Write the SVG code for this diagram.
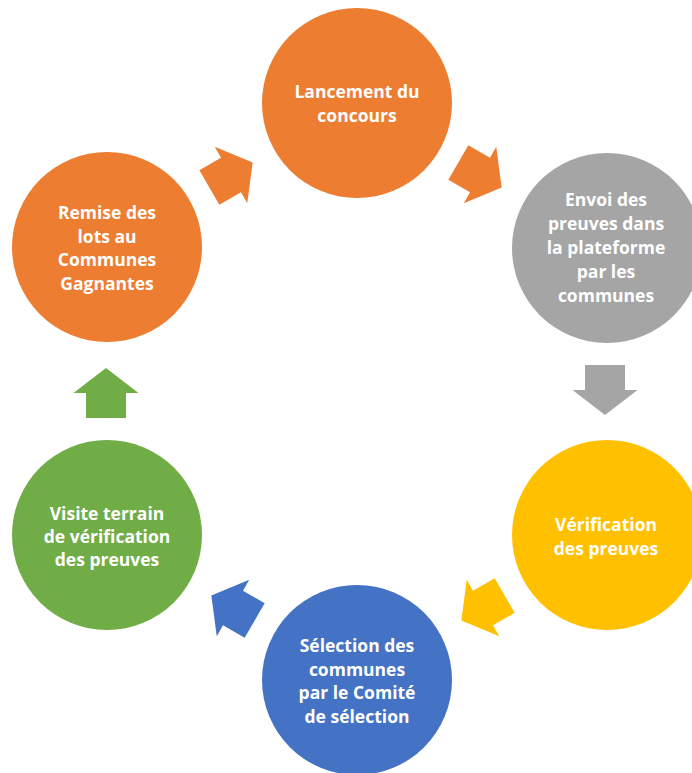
<svg xmlns="http://www.w3.org/2000/svg" width="692" height="773" viewBox="0 0 692 773">
<style>
.t{font-family:"Open Sans","Liberation Sans",sans-serif;font-weight:700;font-size:17.5px;fill:#fff;text-anchor:middle;dominant-baseline:central}
</style>
<defs>
<path id="arr" d="M-25,-20 L0,-20 L0,-32.5 L25,0 L0,32.5 L0,20 L-25,20 Z"/>
</defs>
<rect width="692" height="773" fill="#fff"/>
<g id="connectors">
<use href="#arr" fill="#ED7D31" transform="translate(231,175) rotate(-30)"/>
<use href="#arr" fill="#ED7D31" transform="translate(480,175) rotate(30)"/>
<use href="#arr" fill="#A5A5A5" transform="translate(605,390) rotate(90)"/>
<use href="#arr" fill="#FFC000" transform="translate(483,608) rotate(150)"/>
<use href="#arr" fill="#4472C4" transform="translate(233,608) rotate(210)"/>
<use href="#arr" fill="#70AD47" transform="translate(106,393) rotate(-90)"/>
</g>
<g id="n1">
<circle cx="357" cy="103" r="95" fill="#ED7D31"/>
<text class="t" x="357" y="91">Lancement du</text>
<text class="t" x="357" y="115">concours</text>
</g>
<g id="n2">
<circle cx="607" cy="248" r="95" fill="#A5A5A5"/>
<text class="t" x="606" y="199">Envoi des</text>
<text class="t" x="606" y="223">preuves dans</text>
<text class="t" x="606" y="247">la plateforme</text>
<text class="t" x="606" y="271">par les</text>
<text class="t" x="606" y="295">communes</text>
</g>
<g id="n3">
<circle cx="607" cy="535" r="95" fill="#FFC000"/>
<text class="t" x="606" y="524">Vérification</text>
<text class="t" x="606" y="548">des preuves</text>
</g>
<g id="n4">
<circle cx="357" cy="680" r="95" fill="#4472C4"/>
<text class="t" x="357" y="645">Sélection des</text>
<text class="t" x="357" y="669">communes</text>
<text class="t" x="357" y="692">par le Comité</text>
<text class="t" x="357" y="716">de sélection</text>
</g>
<g id="n5">
<circle cx="107" cy="535" r="95" fill="#70AD47"/>
<text class="t" x="107" y="513">Visite terrain</text>
<text class="t" x="107" y="536">de vérification</text>
<text class="t" x="107" y="559">des preuves</text>
</g>
<g id="n6">
<circle cx="107" cy="247" r="95" fill="#ED7D31"/>
<text class="t" x="107" y="212">Remise des</text>
<text class="t" x="107" y="236">lots au</text>
<text class="t" x="107" y="259">Communes</text>
<text class="t" x="107" y="283">Gagnantes</text>
</g>
</svg>
